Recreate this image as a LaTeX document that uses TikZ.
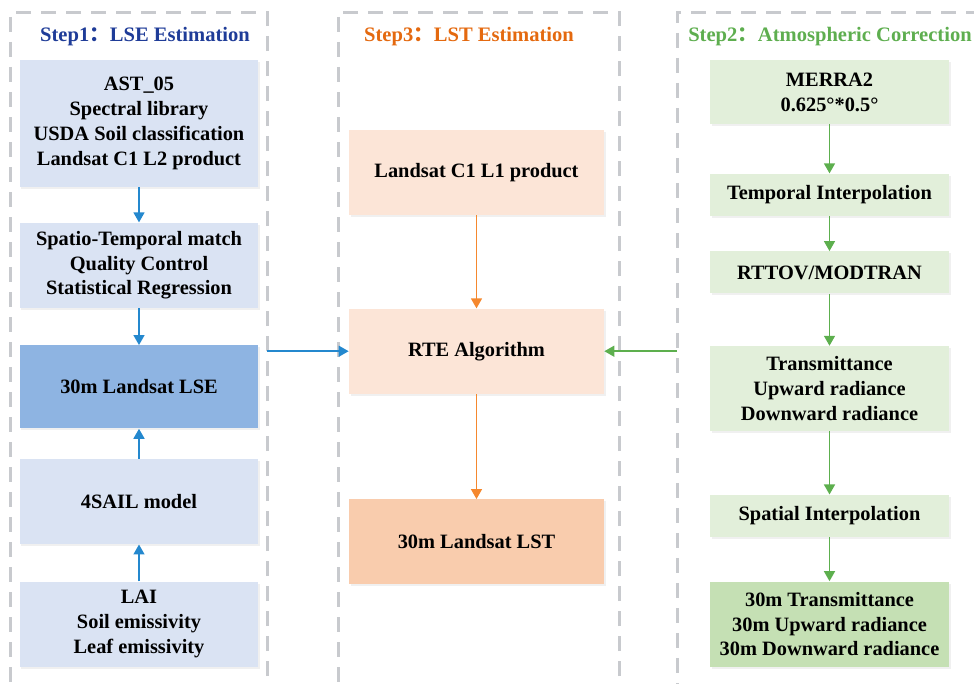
\documentclass[tikz,border=0pt]{standalone}
\usepackage{fontspec}
\setmainfont{Liberation Serif}
\newfontfamily\cjk{Noto Sans CJK SC}
\usetikzlibrary{arrows.meta,positioning,shadows}
\definecolor{panelgray}{HTML}{C8CACE}
\definecolor{lbluefill}{HTML}{DAE3F3}
\definecolor{lsefill}{HTML}{8EB4E2}
\definecolor{lorangefill}{HTML}{FCE5D7}
\definecolor{lstfill}{HTML}{F9CCAD}
\definecolor{lgreenfill}{HTML}{E2EFDA}
\definecolor{outfill}{HTML}{C5E0B4}
\definecolor{stepblue}{HTML}{1F3C98}
\definecolor{steporange}{HTML}{E4690F}
\definecolor{stepgreen}{HTML}{5EAE4F}
\definecolor{arrblue}{HTML}{2488CE}
\definecolor{arrorange}{HTML}{F5882E}
\definecolor{arrgreen}{HTML}{5DAF4E}
\tikzset{
  panel/.style={draw=panelgray, line width=0.6mm, dash pattern=on 3mm off 2mm, inner sep=0pt, outer sep=0pt},
  head/.style={font=\bfseries\fontsize{11.7}{14}\selectfont, inner sep=0pt},
  box/.style={align=center, inner xsep=1mm, minimum height=17mm, font=\bfseries\fontsize{11.6}{14.2}\selectfont,
    drop shadow={opacity=0.12, shadow xshift=0.3mm, shadow yshift=-0.4mm}},
  lbox/.style={box, fill=lbluefill, minimum width=47.6mm},
  obox/.style={box, fill=lorangefill, minimum width=51mm},
  gbox/.style={box, fill=lgreenfill, minimum width=47.8mm},
  barrow/.style={-{Triangle[length=2mm,width=2.2mm]}, line width=0.3mm, draw=arrblue},
  oarrow/.style={-{Triangle[length=2mm,width=2.2mm]}, line width=0.3mm, draw=arrorange},
  garrow/.style={-{Triangle[length=2mm,width=2.2mm]}, line width=0.3mm, draw=arrgreen}
}

\begin{document}
\begin{tikzpicture}[x=0.2mm, y=-0.2mm]
  \useasboundingbox (0,0) rectangle (974,683);
  \clip (0,0) rectangle (974,683);

  % dashed panels
  \node[panel, minimum width=51.2mm, minimum height=141.6mm] (p1) at (139,366) {};
  \node[panel, minimum width=56.2mm, minimum height=141.6mm] (p3) at (478.5,366) {};
  \node[panel, minimum width=64.6mm, minimum height=141.6mm] (p2) at (838.5,366) {};

  \node[head, text=stepblue] (h1) at (145,37) {Step1{\cjk ：}LSE Estimation};
  \node[head, text=steporange] (h3) at (469,37) {Step3{\cjk ：}LST Estimation};
  \node[head, text=stepgreen] (h2) at (830,37) {Step2{\cjk ：}Atmospheric Correction};

  % step 1
  \node[lbox, minimum height=25.4mm] (ast) at (139,123.5) {AST\_05\\Spectral library\\USDA Soil classification\\Landsat C1 L2 product};
  \node[lbox, below=7mm of ast] (match) {Spatio-Temporal match\\Quality Control\\Statistical Regression};
  \node[lbox, fill=lsefill, minimum height=16.6mm, below=7.4mm of match] (lse) {30m Landsat LSE};
  \node[lbox, below=6mm of lse] (sail) {4SAIL model};
  \node[lbox, below=7.4mm of sail] (lai) {LAI\\Soil emissivity\\Leaf emissivity};

  % step 3
  \node[obox] (l1) at (476.5,172.5) {Landsat C1 L1 product};
  \node[obox, below=18.6mm of l1] (rte) {RTE Algorithm};
  \node[obox, fill=lstfill, below=21mm of rte] (lst) {30m Landsat LST};

  % step 2
  \node[gbox, minimum height=12.8mm] (merra) at (829.5,92) {MERRA2\\0.625°*0.5°};
  \node[gbox, minimum height=8.4mm, below=9.8mm of merra] (temporal) {Temporal Interpolation};
  \node[gbox, minimum height=8.4mm, below=7mm of temporal] (rttov) {RTTOV/MODTRAN};
  \node[gbox, below=10.4mm of rttov] (trans) {Transmittance\\Upward radiance\\Downward radiance};
  \node[gbox, minimum height=8.4mm, below=12.6mm of trans] (spatial) {Spatial Interpolation};
  \node[gbox, fill=outfill, below=8.8mm of spatial] (out30) {30m Transmittance\\30m Upward radiance\\30m Downward radiance};

  \draw[barrow] (ast) -- (match);
  \draw[barrow] (match) -- (lse);
  \draw[barrow] (sail) -- (lse);
  \draw[barrow] (lai) -- (sail);

  \draw[oarrow] (l1) -- (rte);
  \draw[oarrow] (rte) -- (lst);

  \draw[garrow] (merra) -- (temporal);
  \draw[garrow] (temporal) -- (rttov);
  \draw[garrow] (rttov) -- (trans);
  \draw[garrow] (trans) -- (spatial);
  \draw[garrow] (spatial) -- (out30);

  \draw[barrow] (p1.east |- rte) -- (rte);
  \draw[garrow] (p2.west |- rte) -- (rte);
\end{tikzpicture}
\end{document}
